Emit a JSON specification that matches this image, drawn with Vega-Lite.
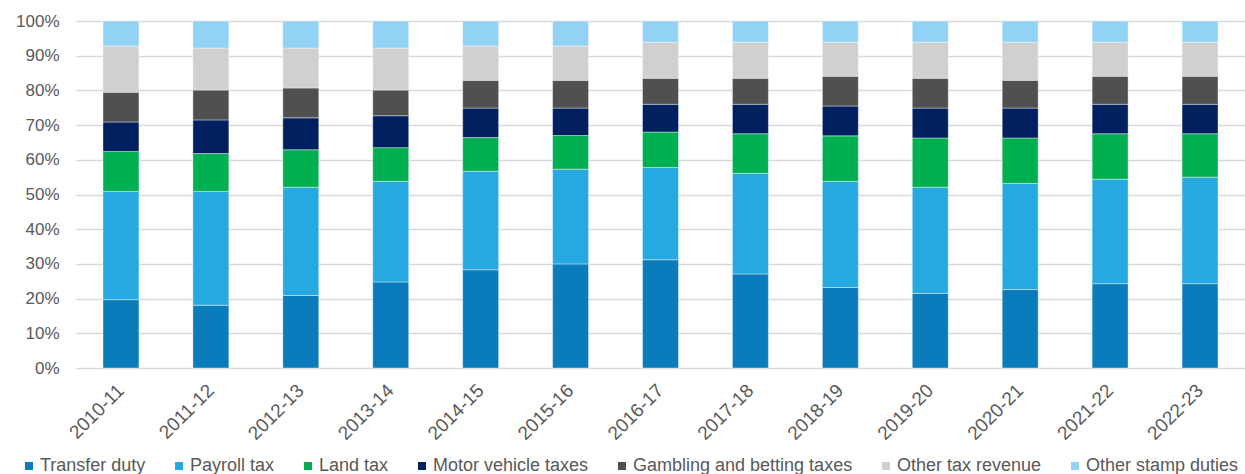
{
  "$schema": "https://vega.github.io/schema/vega-lite/v6.json",
  "width": 1169,
  "height": 347,
  "autosize": {"type": "none"},
  "padding": {"left": 76, "top": 21, "right": 0, "bottom": 106},
  "background": "white",
  "config": {
    "view": {"stroke": null},
    "font": "Liberation Sans",
    "axis": {"labelFont": "Liberation Sans", "labelColor": "#595959"},
    "legend": {"labelFont": "Liberation Sans"}
  },
  "data": {
    "values": [
      {"year": "2010-11", "tax": "Transfer duty", "share": 19.7},
      {"year": "2010-11", "tax": "Payroll tax", "share": 31.2},
      {"year": "2010-11", "tax": "Land tax", "share": 11.5},
      {"year": "2010-11", "tax": "Motor vehicle taxes", "share": 8.5},
      {"year": "2010-11", "tax": "Gambling and betting taxes", "share": 8.6},
      {"year": "2010-11", "tax": "Other tax revenue", "share": 13.3},
      {"year": "2010-11", "tax": "Other stamp duties", "share": 7.2},
      {"year": "2011-12", "tax": "Transfer duty", "share": 18.1},
      {"year": "2011-12", "tax": "Payroll tax", "share": 32.8},
      {"year": "2011-12", "tax": "Land tax", "share": 10.9},
      {"year": "2011-12", "tax": "Motor vehicle taxes", "share": 9.7},
      {"year": "2011-12", "tax": "Gambling and betting taxes", "share": 8.6},
      {"year": "2011-12", "tax": "Other tax revenue", "share": 12.1},
      {"year": "2011-12", "tax": "Other stamp duties", "share": 7.8},
      {"year": "2012-13", "tax": "Transfer duty", "share": 20.9},
      {"year": "2012-13", "tax": "Payroll tax", "share": 31.2},
      {"year": "2012-13", "tax": "Land tax", "share": 10.8},
      {"year": "2012-13", "tax": "Motor vehicle taxes", "share": 9.2},
      {"year": "2012-13", "tax": "Gambling and betting taxes", "share": 8.6},
      {"year": "2012-13", "tax": "Other tax revenue", "share": 11.5},
      {"year": "2012-13", "tax": "Other stamp duties", "share": 7.8},
      {"year": "2013-14", "tax": "Transfer duty", "share": 24.8},
      {"year": "2013-14", "tax": "Payroll tax", "share": 29.0},
      {"year": "2013-14", "tax": "Land tax", "share": 9.7},
      {"year": "2013-14", "tax": "Motor vehicle taxes", "share": 9.2},
      {"year": "2013-14", "tax": "Gambling and betting taxes", "share": 7.4},
      {"year": "2013-14", "tax": "Other tax revenue", "share": 12.1},
      {"year": "2013-14", "tax": "Other stamp duties", "share": 7.8},
      {"year": "2014-15", "tax": "Transfer duty", "share": 28.3},
      {"year": "2014-15", "tax": "Payroll tax", "share": 28.4},
      {"year": "2014-15", "tax": "Land tax", "share": 9.7},
      {"year": "2014-15", "tax": "Motor vehicle taxes", "share": 8.5},
      {"year": "2014-15", "tax": "Gambling and betting taxes", "share": 8.0},
      {"year": "2014-15", "tax": "Other tax revenue", "share": 9.9},
      {"year": "2014-15", "tax": "Other stamp duties", "share": 7.2},
      {"year": "2015-16", "tax": "Transfer duty", "share": 30.0},
      {"year": "2015-16", "tax": "Payroll tax", "share": 27.3},
      {"year": "2015-16", "tax": "Land tax", "share": 9.7},
      {"year": "2015-16", "tax": "Motor vehicle taxes", "share": 7.9},
      {"year": "2015-16", "tax": "Gambling and betting taxes", "share": 8.0},
      {"year": "2015-16", "tax": "Other tax revenue", "share": 9.9},
      {"year": "2015-16", "tax": "Other stamp duties", "share": 7.2},
      {"year": "2016-17", "tax": "Transfer duty", "share": 31.2},
      {"year": "2016-17", "tax": "Payroll tax", "share": 26.6},
      {"year": "2016-17", "tax": "Land tax", "share": 10.2},
      {"year": "2016-17", "tax": "Motor vehicle taxes", "share": 8.0},
      {"year": "2016-17", "tax": "Gambling and betting taxes", "share": 7.5},
      {"year": "2016-17", "tax": "Other tax revenue", "share": 10.4},
      {"year": "2016-17", "tax": "Other stamp duties", "share": 6.1},
      {"year": "2017-18", "tax": "Transfer duty", "share": 27.1},
      {"year": "2017-18", "tax": "Payroll tax", "share": 29.0},
      {"year": "2017-18", "tax": "Land tax", "share": 11.4},
      {"year": "2017-18", "tax": "Motor vehicle taxes", "share": 8.5},
      {"year": "2017-18", "tax": "Gambling and betting taxes", "share": 7.5},
      {"year": "2017-18", "tax": "Other tax revenue", "share": 10.4},
      {"year": "2017-18", "tax": "Other stamp duties", "share": 6.1},
      {"year": "2018-19", "tax": "Transfer duty", "share": 23.2},
      {"year": "2018-19", "tax": "Payroll tax", "share": 30.6},
      {"year": "2018-19", "tax": "Land tax", "share": 13.1},
      {"year": "2018-19", "tax": "Motor vehicle taxes", "share": 8.6},
      {"year": "2018-19", "tax": "Gambling and betting taxes", "share": 8.6},
      {"year": "2018-19", "tax": "Other tax revenue", "share": 9.8},
      {"year": "2018-19", "tax": "Other stamp duties", "share": 6.1},
      {"year": "2019-20", "tax": "Transfer duty", "share": 21.5},
      {"year": "2019-20", "tax": "Payroll tax", "share": 30.6},
      {"year": "2019-20", "tax": "Land tax", "share": 14.2},
      {"year": "2019-20", "tax": "Motor vehicle taxes", "share": 8.6},
      {"year": "2019-20", "tax": "Gambling and betting taxes", "share": 8.6},
      {"year": "2019-20", "tax": "Other tax revenue", "share": 10.4},
      {"year": "2019-20", "tax": "Other stamp duties", "share": 6.1},
      {"year": "2020-21", "tax": "Transfer duty", "share": 22.6},
      {"year": "2020-21", "tax": "Payroll tax", "share": 30.6},
      {"year": "2020-21", "tax": "Land tax", "share": 13.1},
      {"year": "2020-21", "tax": "Motor vehicle taxes", "share": 8.6},
      {"year": "2020-21", "tax": "Gambling and betting taxes", "share": 8.0},
      {"year": "2020-21", "tax": "Other tax revenue", "share": 11.0},
      {"year": "2020-21", "tax": "Other stamp duties", "share": 6.1},
      {"year": "2021-22", "tax": "Transfer duty", "share": 24.3},
      {"year": "2021-22", "tax": "Payroll tax", "share": 30.1},
      {"year": "2021-22", "tax": "Land tax", "share": 13.1},
      {"year": "2021-22", "tax": "Motor vehicle taxes", "share": 8.5},
      {"year": "2021-22", "tax": "Gambling and betting taxes", "share": 8.1},
      {"year": "2021-22", "tax": "Other tax revenue", "share": 9.8},
      {"year": "2021-22", "tax": "Other stamp duties", "share": 6.1},
      {"year": "2022-23", "tax": "Transfer duty", "share": 24.3},
      {"year": "2022-23", "tax": "Payroll tax", "share": 30.7},
      {"year": "2022-23", "tax": "Land tax", "share": 12.5},
      {"year": "2022-23", "tax": "Motor vehicle taxes", "share": 8.5},
      {"year": "2022-23", "tax": "Gambling and betting taxes", "share": 8.1},
      {"year": "2022-23", "tax": "Other tax revenue", "share": 9.8},
      {"year": "2022-23", "tax": "Other stamp duties", "share": 6.1}
    ]
  },
  "transform": [
    {"calculate": "indexof(['Transfer duty','Payroll tax','Land tax','Motor vehicle taxes','Gambling and betting taxes','Other tax revenue','Other stamp duties'], datum.tax)", "as": "stackOrder"}
  ],
  "mark": {"type": "bar", "stroke": "#ffffff", "strokeWidth": 0.4},
  "encoding": {
    "x": {
      "field": "year",
      "type": "nominal",
      "sort": null,
      "scale": {"paddingInner": 0.6, "paddingOuter": 0.3},
      "axis": {
        "title": null,
        "labelAngle": -45,
        "labelAlign": "right",
        "labelBaseline": "middle",
        "labelFontSize": 19,
        "labelPadding": 19,
        "ticks": false,
        "domain": false
      }
    },
    "y": {
      "field": "share",
      "type": "quantitative",
      "stack": "normalize",
      "scale": {"domain": [0, 1]},
      "axis": {
        "title": null,
        "format": ".0%",
        "values": [0, 0.1, 0.2, 0.3, 0.4, 0.5, 0.6, 0.7, 0.8, 0.9, 1],
        "labelFontSize": 17,
        "labelPadding": 17,
        "ticks": false,
        "domain": false,
        "grid": true,
        "gridColor": "#D9D9D9",
        "gridWidth": 1.5
      }
    },
    "color": {
      "field": "tax",
      "type": "nominal",
      "scale": {
        "domain": ["Transfer duty", "Payroll tax", "Land tax", "Motor vehicle taxes", "Gambling and betting taxes", "Other tax revenue", "Other stamp duties"],
        "range": ["#0B7CBB", "#25A9E0", "#00B050", "#002060", "#505050", "#D0D0D0", "#92D3F5"]
      },
      "legend": {
        "title": null,
        "orient": "none",
        "direction": "horizontal",
        "legendX": -56,
        "legendY": 436,
        "symbolType": "square",
        "symbolSize": 64,
        "symbolStrokeWidth": 0,
        "labelFontSize": 18,
        "labelColor": "#595959",
        "labelOffset": 2,
        "columnPadding": 24,
        "labelLimit": 400
      }
    },
    "order": {"field": "stackOrder", "type": "quantitative"}
  }
}
